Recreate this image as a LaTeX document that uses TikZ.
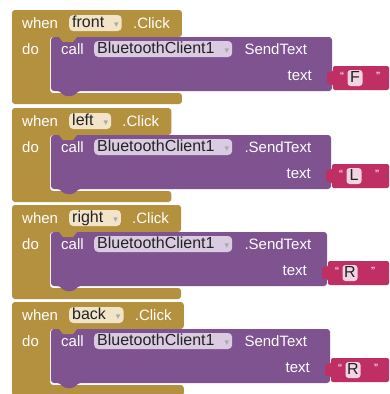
\documentclass[tikz,border=0pt]{standalone}
\usepackage{fontspec}
\setmainfont{Liberation Sans}
\newfontfamily\arrowfont{DejaVu Sans}
\usetikzlibrary{calc}
\pgfdeclarelayer{bg}
\pgfsetlayers{bg,main}

\definecolor{ctrlgold}{HTML}{B4913F}
\definecolor{callpurple}{HTML}{7E5390}
\definecolor{strpink}{HTML}{BF2F63}
\definecolor{fieldbeige}{HTML}{F1E4C8}
\definecolor{fieldlilac}{HTML}{DACBE2}
\definecolor{fieldpink}{HTML}{F4D4E0}
\definecolor{fieldtext}{HTML}{222222}
\definecolor{arrowgrey}{HTML}{A8A8A8}

% dropdown marker inside a field
\newcommand{\ddarrow}{\hspace{10pt}{\arrowfont\fontsize{9}{9}\selectfont\color{arrowgrey}▾}\hspace{8pt}}

\tikzset{
  lbl/.style={text=white, inner sep=0pt, anchor=west,
    font=\fontsize{15}{15}\selectfont},
  fieldbase/.style={text=fieldtext, rounded corners=4pt, anchor=west,
    inner xsep=3pt, inner ysep=1pt, text height=11pt, text depth=3pt,
    font=\fontsize{16}{16}\selectfont},
  gfield/.style={fieldbase, fill=fieldbeige},
  pfield/.style={fieldbase, fill=fieldlilac},
  sfield/.style={fieldbase, fill=fieldpink, anchor=center, inner xsep=0pt,
    minimum width=15pt, rounded corners=3pt},
  qt/.style={text=white, inner sep=0pt, font=\fontsize{12}{12}\selectfont},
  goldshape/.style={fill=ctrlgold, rounded corners=3pt},
  purpleshape/.style={fill=callpurple, rounded corners=3pt},
  pinkshape/.style={fill=strpink, rounded corners=2pt},
}

% One "when <button>.Click do call BluetoothClient1.SendText" block
% #1 id, #2 top edge, #3 button name, #4 letter sent,
% #5 right edge of the call block, #6 method label
\newcommand{\clickblock}[6]{%
  \node[lbl] (wh#1) at (22,#2+13) {when};
  \node[gfield] (fd#1) at (69,#2+13) {#3\ddarrow};
  \node[lbl] (ck#1) at ($(fd#1.east)+(11,0)$) {.Click};
  \node[lbl] (do#1) at (22,#2+39) {do};
  \node[lbl] (cl#1) at (61,#2+39) {call};
  \node[pfield] (bt#1) at (94,#2+39) {BluetoothClient1\ddarrow};
  \node[lbl] (st#1) at ($(bt#1.east)+(12,0)$) {#6};
  \node[lbl, anchor=east] (tx#1) at (#5-20,#2+66) {text};
  \node[qt] (ql#1) at (#5+10,#2+66) {“};
  \node[sfield] (lt#1) at (#5+23,#2+68) {#4};
  \node[qt] (qr#1) at (#5+46,#2+66) {”};
  \begin{pgfonlayer}{bg}
    \coordinate (hr#1) at ($(ck#1.east)+(12,0)$);
    % event block: header, left arm and bottom bar
    \fill[goldshape] (12,#2) -- (hr#1 |- 0,#2) -- (hr#1 |- 0,#2+27)
      -- (50,#2+27) -- (50,#2+83) -- (hr#1 |- 0,#2+83)
      -- (hr#1 |- 0,#2+94) -- (12,#2+94) -- cycle;
    % method call block with its lower tab
    \fill[purpleshape] (51,#2+27) -- (#5,#2+27) -- (#5,#2+81)
      -- (78,#2+81) -- (74,#2+86) -- (64,#2+86) -- (60,#2+81)
      -- (51,#2+81) -- cycle;
    % notch of the event block reaching into the call block
    \fill[ctrlgold] (59,#2+27) -- (63,#2+32) -- (73,#2+32) -- (77,#2+27) -- cycle;
    % text string block with its plug
    \fill[pinkshape] (#5+1,#2+56) -- (389,#2+56) -- (389,#2+80)
      -- (#5+1,#2+80) -- (#5+1,#2+74) -- (#5-5,#2+74)
      -- (#5-5,#2+62) -- (#5+1,#2+62) -- cycle;
  \end{pgfonlayer}%
}

\begin{document}
\begin{tikzpicture}[x=1pt,y=-1pt]
  \begin{pgfonlayer}{bg}
    \fill[white] (0,0) rectangle (389,394);
  \end{pgfonlayer}
  \useasboundingbox (0,0) rectangle (389,394);
  \begin{scope}
    \clip (0,0) rectangle (389,394);
    \clickblock{a}{10}{front}{F}{332}{SendText}
    \clickblock{b}{108}{left}{L}{331}{.SendText}
    \clickblock{c}{205}{right}{R}{327}{.SendText}
    \clickblock{d}{302}{back}{R}{330}{SendText}
  \end{scope}
\end{tikzpicture}
\end{document}
